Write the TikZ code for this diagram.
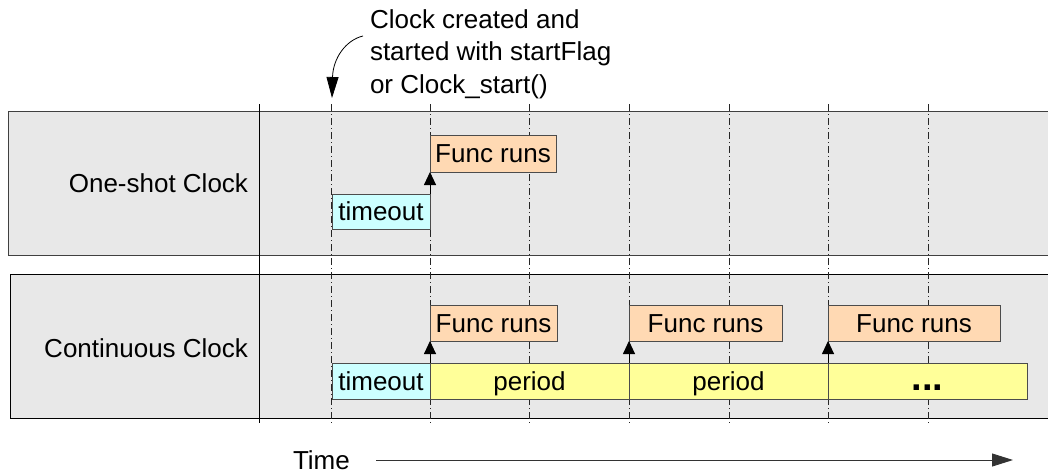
\documentclass[tikz,border=0pt]{standalone}
\usepackage{fontspec}
\setmainfont{Liberation Sans}
\usetikzlibrary{arrows.meta}
\definecolor{panelgray}{RGB}{232,232,232}
\definecolor{tocyan}{RGB}{204,255,255}
\definecolor{fpeach}{RGB}{255,217,179}
\definecolor{pyellow}{RGB}{255,255,153}
\begin{document}
\begin{tikzpicture}[x=1pt,y=-1pt,
  every node/.style={font=\fontsize{26}{30}\selectfont, inner sep=0pt, outer sep=0pt},
  panel/.style={fill=panelgray, line width=1pt},
  gridline/.style={draw=black!85, line width=0.8pt, dash pattern=on 7pt off 3pt on 1pt off 3pt},
  box/.style={draw=black!70, line width=0.9pt, anchor=north west, text height=18.6pt, text depth=0pt, inner sep=0pt},
  tobox/.style={box, fill=tocyan, minimum width=98pt, minimum height=36pt},
  frbox/.style={box, fill=fpeach, minimum height=36pt},
  pbox/.style={box, fill=pyellow, minimum width=199pt, minimum height=36pt},
  smallarr/.style={-{Triangle[length=13pt,width=12pt]}, line width=0.9pt, black},
  bigarr/.style={-{Triangle[length=21pt,width=12pt]}, line width=0.8pt, black},
  timearr/.style={-{Triangle[length=21pt,width=13pt]}, line width=0.9pt, black!80},
]
\useasboundingbox (0,0) rectangle (1048,472);

% panels
\draw[panel, draw=black!75] (8,111) rectangle (1060,255);
\draw[panel, draw=black] (10,274) rectangle (1060,418);

% grid lines
\foreach \x in {331,430,529,629,729,828,928}
  \draw[gridline] (\x,104) -- (\x,424);
\draw[line width=0.9pt, black] (259,104) -- (259,423);

% panel labels
\node[anchor=base east] (lab1) at (248,192) {One-shot Clock};
\node[anchor=base east] (lab2) at (248,357) {Continuous Clock};

% one-shot clock
\node[tobox, minimum height=35pt] (to1) at (332,194) {timeout};
\node[frbox, minimum width=126pt, minimum height=37pt] (fr1) at (430,135) {Func runs};
\draw[smallarr] (to1.north east) -- (fr1.south west);

% continuous clock
\node[tobox] (to2) at (332,363) {timeout};
\node[pbox] (p1) at (430,363) {period};
\node[pbox] (p2) at (629,363) {period};
\node[pbox] (p3) at (828,363) {\fontsize{38}{38}\selectfont\bfseries ...};
\node[frbox, minimum width=127pt] (fr2) at (430,305) {Func runs};
\node[frbox, minimum width=153pt] (fr3) at (629,305) {Func runs};
\node[frbox, minimum width=172pt] (fr4) at (828,305) {Func runs};
\draw[smallarr] (p1.north west) -- (fr2.south west);
\draw[smallarr] (p2.north west) -- (fr3.south west);
\draw[smallarr] (p3.north west) -- (fr4.south west);

% note
\node[anchor=base west, align=left, font=\fontsize{26}{32.5}\selectfont] (note) at (370,93)
  {Clock created and\\started with startFlag\\or Clock\_start()};
\coordinate (cs) at (363,36);
\coordinate (ce) at (332,98);
\draw[bigarr] (cs) .. controls (346,40) and (333,58) .. (ce);

% time axis
\node[anchor=base west] (time) at (293,469) {Time};
\coordinate (ts) at (376,460);
\coordinate (te) at (1013,460);
\draw[timearr] (ts) -- (te);
\end{tikzpicture}
\end{document}
